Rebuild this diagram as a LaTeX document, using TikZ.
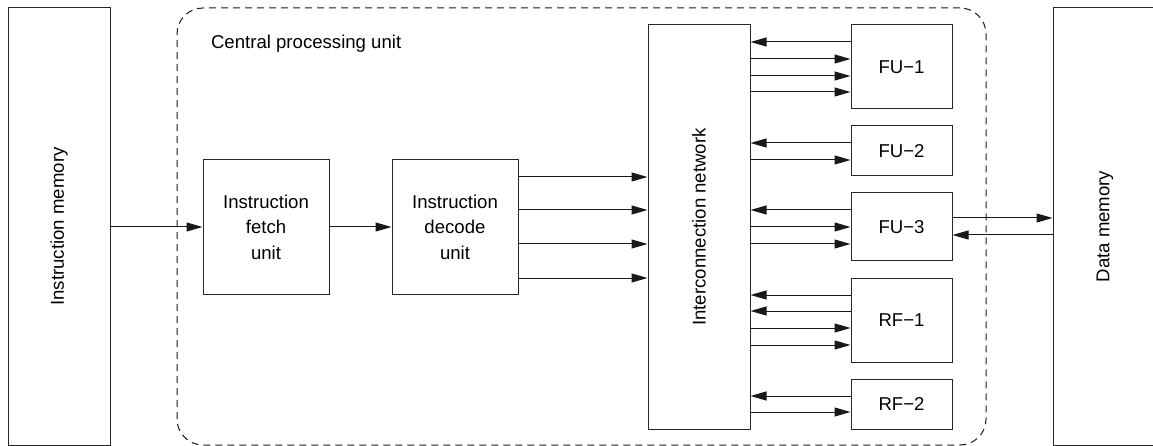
\documentclass[tikz,border=0pt]{standalone}
\usepackage{fontspec}
\setmainfont{Liberation Sans}
\usetikzlibrary{arrows.meta}
\begin{document}
\begin{tikzpicture}[x=1pt,y=-1pt,
  font=\fontsize{18.6}{25.5}\selectfont,
  box/.style={draw=black!85, line width=1pt, inner sep=0pt, align=center},
  link/.style={draw=black!90, line width=1pt, -{Triangle[length=16pt,width=9pt]}},
  cpubox/.style={draw=black!90, line width=1pt, dash pattern=on 7pt off 5pt, rounded corners=26pt}]
\useasboundingbox (0,0) rectangle (1153,446);

% memories
\node[box, minimum width=102, minimum height=437] (im) at (59,226.5) {};
\node[rotate=90] (imlabel) at (im.center) {Instruction memory};
\node[box, minimum width=104, minimum height=437] (dm) at (1105,226.5) {};
\node[rotate=90] (dmlabel) at (dm.center) {Data memory};

% processor outline
\node[cpubox, minimum width=809, minimum height=437] (cpu) at (581.5,226.5) {};
\node[anchor=west] (cpulabel) at (207.5,43.5) {Central processing unit};

% front end
\node[box, minimum width=126, minimum height=134] (fetch) at (266,227) {Instruction\\fetch\\unit};
\node[box, minimum width=126, minimum height=134] (decode) at (455,227) {Instruction\\decode\\unit};

% interconnect
\node[box, minimum width=102, minimum height=404] (net) at (699,227) {};
\node[rotate=90] (netlabel) at (net.center) {Interconnection network};

% functional units and register files
\node[box, minimum width=101, minimum height=84] (fu1) at (901.5,67) {FU−1};
\node[box, minimum width=101, minimum height=50] (fu2) at (901.5,151) {FU−2};
\node[box, minimum width=101, minimum height=68] (fu3) at (901.5,227) {FU−3};
\node[box, minimum width=101, minimum height=84] (rf1) at (901.5,320) {RF−1};
\node[box, minimum width=101, minimum height=50] (rf2) at (901.5,404) {RF−2};

% instruction path
\draw[link] (im.east |- 0,227) -- (fetch.west |- 0,227);
\draw[link] (fetch.east |- 0,227) -- (decode.west |- 0,227);
\foreach \y in {177,210,244,278}
  \draw[link] (decode.east |- 0,\y) -- (net.west |- 0,\y);

% unit to network (results)
\foreach \u/\y in {fu1/42, fu2/143, fu3/210, rf1/295, rf1/311, rf2/396}
  \draw[link] (\u.west |- 0,\y) -- (net.east |- 0,\y);
% network to unit (operands)
\foreach \u/\y in {fu1/59, fu1/76, fu1/92, fu2/160, fu3/227, fu3/244, rf1/328, rf1/345, rf2/412}
  \draw[link] (net.east |- 0,\y) -- (\u.west |- 0,\y);

% load/store unit and data memory
\draw[link] (fu3.east |- 0,218) -- (dm.west |- 0,218);
\draw[link] (dm.west |- 0,235) -- (fu3.east |- 0,235);
\end{tikzpicture}
\end{document}
